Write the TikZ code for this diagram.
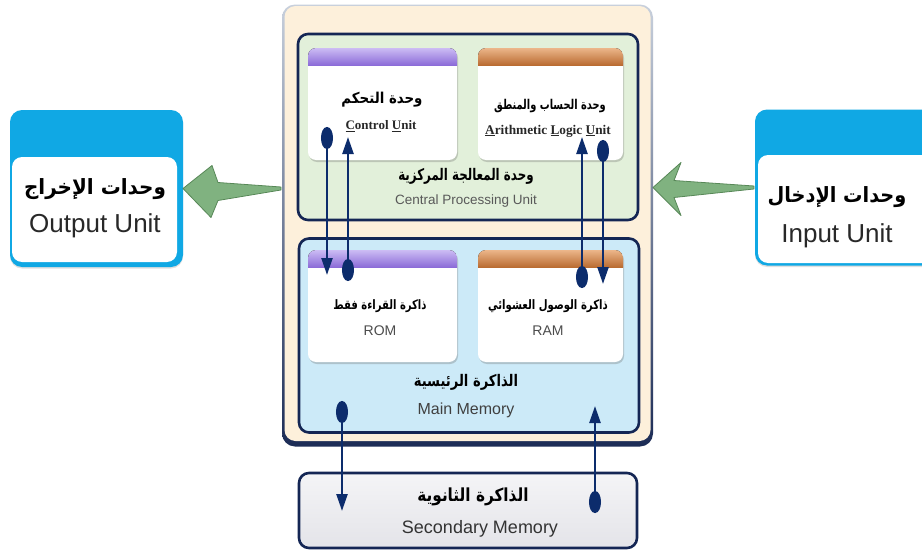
\documentclass[tikz,border=0pt]{standalone}
\usepackage{graphicx}
\usepackage{fontspec}
\setmainfont{Liberation Sans}
\newfontfamily\serifface{Liberation Serif}
\newfontfamily\arabicfont[Script=Arabic]{DejaVu Sans}
\TeXXeTstate=1
\usetikzlibrary{arrows.meta,calc,shadows}

\definecolor{beige}{RGB}{253,240,219}
\definecolor{framelight}{RGB}{200,208,220}
\definecolor{framedark}{RGB}{28,44,86}
\definecolor{navy}{RGB}{20,38,84}
\definecolor{busblue}{RGB}{12,44,108}
\definecolor{cpugreen}{RGB}{226,240,218}
\definecolor{memblue}{RGB}{204,234,248}
\definecolor{secgray}{RGB}{228,228,233}
\definecolor{unitblue}{RGB}{16,168,228}
\definecolor{purpleL}{RGB}{204,188,244}
\definecolor{purpleD}{RGB}{140,108,216}
\definecolor{orangeL}{RGB}{236,182,138}
\definecolor{orangeD}{RGB}{186,108,50}
\definecolor{arrowgreen}{RGB}{128,178,128}
\definecolor{arrowedge}{RGB}{88,136,88}
\definecolor{textgray}{RGB}{40,40,40}

% font switches for the labels
\newcommand\arsize[1]{\arabicfont\bfseries\fontsize{#1}{#1}\selectfont}
\newcommand\ensize[1]{\fontsize{#1}{#1}\selectfont}
\newcommand\sersize[1]{\serifface\bfseries\fontsize{#1}{#1}\selectfont}

% coloured title strip across the top of a card
\newcommand\cardbar[3]{%
  \begin{scope}
    \clip[rounded corners=8pt] (#1.north west) rectangle (#1.south east);
    \fill[top color=#2, bottom color=#3] (#1.north west) rectangle ($(#1.north east)+(0,17)$);
  \end{scope}}

\begin{document}
\begin{tikzpicture}[x=1pt,y=-1pt,
  box/.style={inner sep=0pt, outer sep=0pt},
  unitbox/.style={box, rounded corners=10pt, draw=navy, line width=2.6pt},
  card/.style={box, fill=white, rounded corners=8pt,
    drop shadow={shadow xshift=1pt, shadow yshift=-2pt, opacity=.3, fill=black!60}},
  label/.style={inner sep=0pt, anchor=center},
  bus/.style={draw=busblue, line width=2.4pt,
    arrows={Ellipse[length=22pt,width=12pt]-Triangle[length=17pt,width=11pt]}},
  flow/.style={fill=arrowgreen, draw=arrowedge, line width=0.8pt, line join=round}]

\useasboundingbox (0,0) rectangle (922,554);
\clip (0,0) rectangle (922,554);
\fill[white] (0,0) rectangle (922,554);

% outer enclosure of the computer
\node[box, minimum width=371pt, minimum height=442pt, rounded corners=13pt,
      top color=framelight, bottom color=framedark] (frame) at (467.5,225.5) {};
\node[box, minimum width=366pt, minimum height=435pt, rounded corners=11pt,
      fill=beige] (frame-in) at (467.5,223.5) {};

% central processing unit and main memory
\node[unitbox, fill=cpugreen, minimum width=340pt, minimum height=186pt] (cpu) at (468,127) {};
\node[unitbox, fill=memblue, minimum width=340pt, minimum height=194pt] (mm) at (469,335.5) {};

% cards
\node[card, minimum width=149pt, minimum height=112pt] (cu)  at (382.5,104) {};
\node[card, minimum width=145pt, minimum height=112pt] (alu) at (550.5,104) {};
\node[card, minimum width=149pt, minimum height=112pt] (rom) at (382.5,306) {};
\node[card, minimum width=145pt, minimum height=112pt] (ram) at (550.5,306) {};
\cardbar{cu}{purpleL}{purpleD}
\cardbar{alu}{orangeL}{orangeD}
\cardbar{rom}{purpleL}{purpleD}
\cardbar{ram}{orangeL}{orangeD}

% secondary memory
\node[unitbox, top color=secgray!40, bottom color=secgray, minimum width=338pt,
      minimum height=75pt] (sec) at (468,510.5) {};

% output and input units
\node[box, fill=unitblue, rounded corners=12pt, minimum width=173pt, minimum height=157pt,
      drop shadow={shadow xshift=0pt, shadow yshift=-1.5pt, opacity=.25, fill=black!50}] (out) at (96.5,188.5) {};
\node[box, fill=white, rounded corners=10pt, minimum width=165pt, minimum height=105pt] (out-body) at (94.5,209.5) {};
\node[box, fill=unitblue, rounded corners=12pt, minimum width=190pt, minimum height=156pt,
      drop shadow={shadow xshift=0pt, shadow yshift=-1.5pt, opacity=.25, fill=black!50}] (in) at (850,187.5) {};
\node[box, fill=white, rounded corners=10pt, minimum width=190pt, minimum height=108pt] (in-body) at (853,209) {};

% texts
\node[label] (out-ar) at (95,189) {\scalebox{.95}[1]{\arsize{21}\beginR وحدات الإخراج\endR}};
\node[label, text=textgray] (out-en) at (95,226) {\ensize{26}Output Unit};
\node[label] (in-ar) at (837,197) {\scalebox{.92}[1]{\arsize{21}\beginR وحدات الإدخال\endR}};
\node[label, text=textgray] (in-en) at (837,236) {\ensize{26}Input Unit};

\node[label] (cu-ar) at (382,100) {\scalebox{.89}[1]{\arsize{15}\beginR وحدة التحكم\endR}};
\node[label, text=textgray] (cu-en) at (381,126) {\sersize{13}\underline{C}ontrol \underline{U}nit};
\node[label] (alu-ar) at (550,106) {\scalebox{.73}[1]{\arsize{13.5}\beginR وحدة الحساب والمنطق\endR}};
\node[label, text=textgray] (alu-en) at (548,131) {\sersize{13.3}\underline{A}rithmetic \underline{L}ogic \underline{U}nit};
\node[label] (cpu-ar) at (466,176) {\scalebox{.74}[1]{\arsize{16}\beginR وحدة المعالجة المركزية\endR}};
\node[label, text=black!65] (cpu-en) at (466,201) {\ensize{13.5}Central Processing Unit};

\node[label] (rom-ar) at (380,306) {\scalebox{.77}[1]{\arsize{13}\beginR ذاكرة القراءة فقط\endR}};
\node[label, text=black!70] (rom-en) at (380,331) {\ensize{14}ROM};
\node[label] (ram-ar) at (548,306) {\scalebox{.78}[1]{\arsize{13}\beginR ذاكرة الوصول العشوائي\endR}};
\node[label, text=black!70] (ram-en) at (548,331) {\ensize{14}RAM};
\node[label] (mm-ar) at (466,382) {\scalebox{.82}[1]{\arsize{16}\beginR الذاكرة الرئيسية\endR}};
\node[label, text=black!75] (mm-en) at (466,410) {\ensize{16}Main Memory};

\node[label] (sec-ar) at (473,497) {\scalebox{.85}[1]{\arsize{18}\beginR الذاكرة الثانوية\endR}};
\node[label, text=black!80] (sec-en) at (480,529) {\ensize{18}Secondary Memory};

% data paths
\coordinate (cu-tx)  at (327,127);  \coordinate (rom-rx) at (327,275);
\coordinate (rom-tx) at (348,281);  \coordinate (cu-rx)  at (348,137);
\coordinate (ram-tx) at (582,288);  \coordinate (alu-rx) at (582,137);
\coordinate (alu-tx) at (603,140);  \coordinate (ram-rx) at (603,284);
\coordinate (mm-tx)  at (342,401);  \coordinate (sec-rx) at (342,511);
\coordinate (sec-tx) at (595,513);  \coordinate (mm-rx)  at (595,406);

\draw[bus] (cu-tx) -- (rom-rx);
\draw[bus] (rom-tx) -- (cu-rx);
\draw[bus] (ram-tx) -- (alu-rx);
\draw[bus] (alu-tx) -- (ram-rx);
\draw[bus] (mm-tx) -- (sec-rx);
\draw[bus] (sec-tx) -- (mm-rx);

% flow arrows between the units and the enclosure
\coordinate (in-tip) at (frame.east |- in.west);
\path[flow] (in-tip) -- ($(in-tip)+(28,-25)$) -- ($(in-tip)+(21,-7)$)
  -- ($(in.west)+(-1,-1.5)$) -- ($(in.west)+(-1,1.5)$)
  -- ($(in-tip)+(21,10)$) -- ($(in-tip)+(28,28)$) -- cycle;

\coordinate (out-tip) at (out.east);
\coordinate (out-end) at (frame.west |- out.east);
\path[flow] (out-tip) -- ($(out-tip)+(29,-23)$) -- ($(out-tip)+(35,-6)$)
  -- ($(out-end)+(-1,-1.5)$) -- ($(out-end)+(-1,1.5)$)
  -- ($(out-tip)+(35,12)$) -- ($(out-tip)+(28,29)$) -- cycle;

\end{tikzpicture}
\end{document}
